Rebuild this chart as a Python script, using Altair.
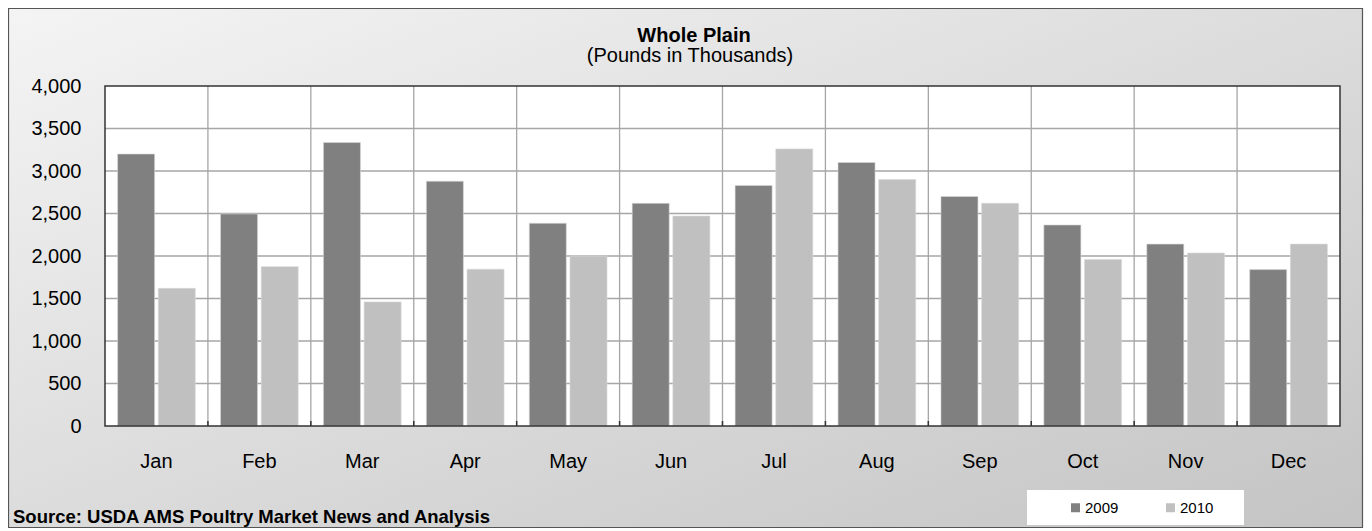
import altair as alt
import pandas as pd

months = ["Jan", "Feb", "Mar", "Apr", "May", "Jun", "Jul", "Aug", "Sep", "Oct", "Nov", "Dec"]
years = ["2009", "2010"]
v2009 = [3200, 2495, 3335, 2880, 2385, 2620, 2830, 3100, 2700, 2365, 2140, 1840]
v2010 = [1620, 1875, 1460, 1845, 2000, 2470, 3260, 2900, 2620, 1960, 2035, 2140]
y_ticks = [0, 500, 1000, 1500, 2000, 2500, 3000, 3500, 4000]
title_text = "Whole Plain"
subtitle_text = "(Pounds in Thousands)"
source_text = "Source: USDA AMS Poultry Market News and Analysis"

FONT = "Liberation Sans"
W, H = 1235, 340
PL, PT, PR, PB = 97, 78, 24, 103

rows = []
for m, a, b in zip(months, v2009, v2010):
    rows.append({"month": m, "year": "2009", "value": a})
    rows.append({"month": m, "year": "2010", "value": b})
bars_df = pd.DataFrame(rows)
grid_df = pd.DataFrame({"v": [t for t in y_ticks if 0 < t < 4000]})
vgrid_df = pd.DataFrame({"month": months[1:]})
one = pd.DataFrame({"a": [0]})

xscale = alt.Scale(domain=months, paddingInner=0, paddingOuter=0)
yscale = alt.Scale(domain=[0, 4000], nice=False)
yaxis = alt.Axis(values=y_ticks, format=",.0f", grid=False, domain=False, ticks=False,
                 labelFontSize=20, labelFont=FONT, labelColor="black",
                 labelPadding=24, zindex=1)

bg = alt.Chart(one).mark_rect(
    fill=alt.Gradient(
        gradient="linear",
        stops=[alt.GradientStop(color="#f4f4f4", offset=0),
               alt.GradientStop(color="#dcdcdc", offset=0.5),
               alt.GradientStop(color="#c4c4c4", offset=1)],
        x1=0, y1=0, x2=1, y2=1),
    stroke="#555555", strokeWidth=1.2
).encode(x=alt.value(-PL + 0.5), x2=alt.value(W + PR - 1.5),
         y=alt.value(-PT + 0.5), y2=alt.value(H + PB - 1.5))

plot_bg = alt.Chart(one).mark_rect(fill="white").encode(
    x=alt.value(0), x2=alt.value(W), y=alt.value(0), y2=alt.value(H))

hgrid = alt.Chart(grid_df).mark_rule(color="#a6a6a6", strokeWidth=1.3).encode(
    y=alt.Y("v:Q", scale=yscale, title=None, axis=yaxis))

vgrid = alt.Chart(vgrid_df).mark_rule(color="#a6a6a6", strokeWidth=1.3).encode(
    x=alt.X("month:N", scale=xscale, bandPosition=0, title=None,
            axis=alt.Axis(labelAngle=0, domain=False, ticks=False, grid=False,
                          labelFontSize=20, labelFont=FONT, labelColor="black",
                          labelPadding=25, zindex=1)),
    y=alt.value(0), y2=alt.value(H))

vticks = alt.Chart(vgrid_df).mark_rule(color="#333333", strokeWidth=1.5).encode(
    x=alt.X("month:N", scale=xscale, bandPosition=0),
    y=alt.value(H - 5), y2=alt.value(H))

legend_box = alt.Chart(one).mark_rect(fill="white").encode(
    x=alt.value(922), x2=alt.value(1139), y=alt.value(404), y2=alt.value(439))

bars = alt.Chart(bars_df).mark_bar(stroke="#d8d8d8", strokeWidth=0.6).encode(
    x=alt.X("month:N", scale=xscale, sort=months, title=None),
    xOffset=alt.XOffset("year:N", scale=alt.Scale(domain=years, paddingInner=0.09, paddingOuter=0.31)),
    y=alt.Y("value:Q", scale=yscale, title=None, axis=yaxis),
    color=alt.Color("year:N", scale=alt.Scale(domain=years, range=["#808080", "#c0c0c0"]),
                    legend=alt.Legend(orient="none", legendX=963, legendY=414, direction="horizontal",
                                      title=None, symbolType="square", symbolSize=81,
                                      symbolStrokeWidth=0, labelFontSize=15, labelFont=FONT,
                                      labelColor="black", labelOffset=2, columnPadding=44,
                                      padding=0)))

border = alt.Chart(one).mark_rect(fill="white", fillOpacity=0, stroke="#333333", strokeWidth=1.5).encode(
    x=alt.value(0), x2=alt.value(W), y=alt.value(0), y2=alt.value(H))

title_df = pd.DataFrame({"t": [title_text]})
sub_df = pd.DataFrame({"t": [subtitle_text]})
src_df = pd.DataFrame({"t": [source_text]})

title = alt.Chart(title_df).mark_text(font=FONT, fontSize=20, fontWeight="bold", color="black",
                                      align="center", baseline="middle").encode(
    text="t:N", x=alt.value(589), y=alt.value(-50))
subtitle = alt.Chart(sub_df).mark_text(font=FONT, fontSize=20, color="black",
                                       align="center", baseline="middle").encode(
    text="t:N", x=alt.value(585), y=alt.value(-30))
source = alt.Chart(src_df).mark_text(font=FONT, fontSize=18.5, fontWeight="bold", color="black",
                                     align="left", baseline="middle").encode(
    text="t:N", x=alt.value(-92), y=alt.value(431))

chart = alt.layer(bg, plot_bg, hgrid, vgrid, legend_box, bars, vticks, border, title, subtitle, source).properties(
    width=W, height=H,
    padding={"left": PL, "top": PT, "right": PR, "bottom": PB},
    autosize=alt.AutoSizeParams(type="none"),
).configure_view(stroke=None)

chart.save("out.html", embed_options={"renderer": "svg", "actions": False})
